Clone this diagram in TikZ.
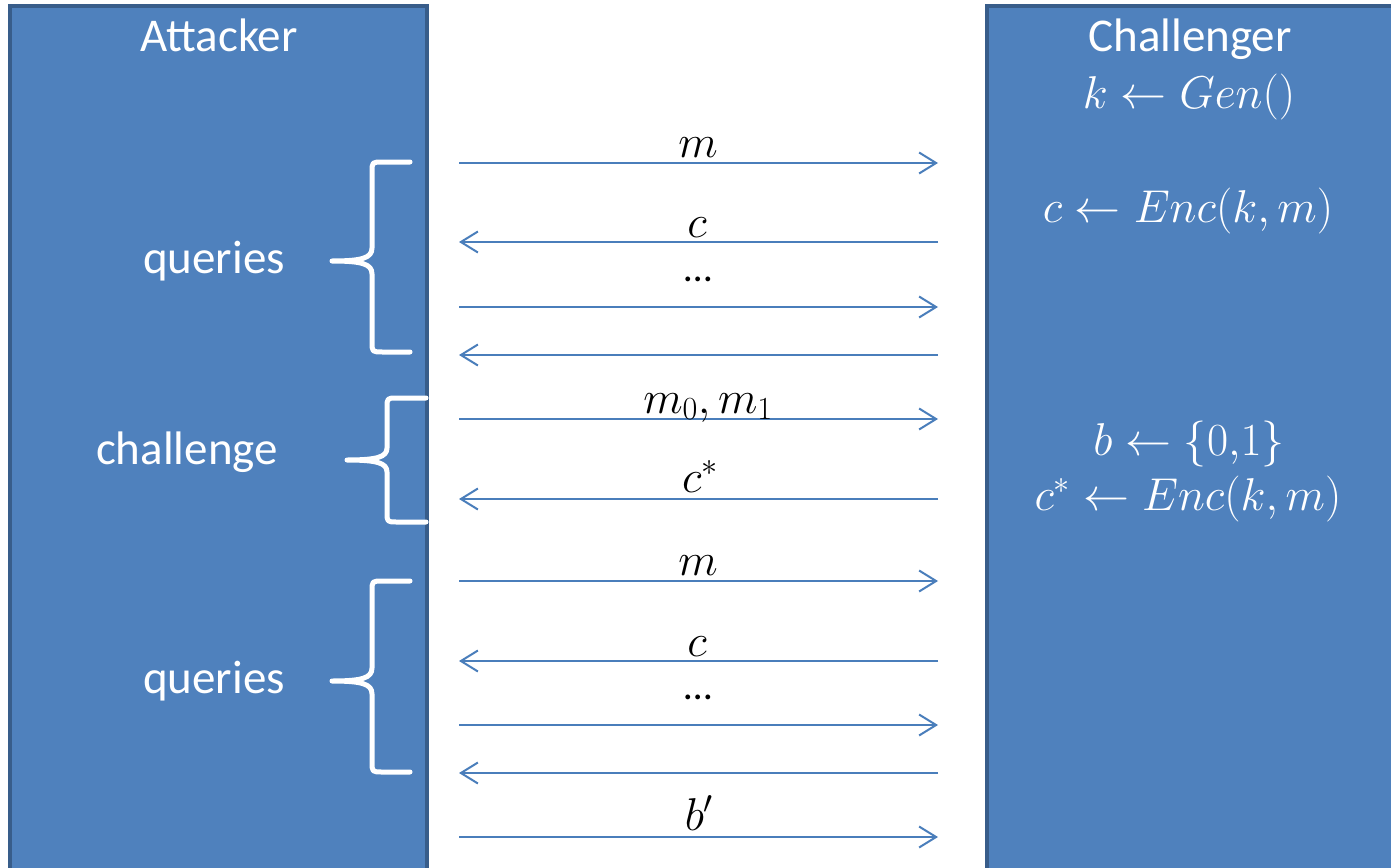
\RequirePackage{fix-cm}
\documentclass[tikz,border=0pt]{standalone}
\usepackage[no-math]{fontspec}
\newfontfamily\calibri{Carlito}
\usetikzlibrary{arrows.meta}
\definecolor{boxfill}{HTML}{4F81BD}
\definecolor{boxline}{HTML}{385D8A}
\definecolor{arrowcol}{HTML}{4A7EBB}
\tikzset{
  party/.style={fill=boxfill, draw=boxline, line width=3.5pt},
  txt/.style={text=white, font=\calibri\fontsize{47}{56}\selectfont, anchor=base, inner sep=0pt},
  mtxt/.style={text=white, font=\fontsize{46}{55}\selectfont, anchor=base, inner sep=0pt},
  lbl/.style={text=black, font=\fontsize{46}{55}\selectfont, anchor=base, inner sep=0pt},
  dots/.style={text=black, font=\calibri\fontsize{40}{48}\selectfont, anchor=base, inner sep=0pt},
  msg/.style={draw=arrowcol, line width=2pt, -{Straight Barb[length=17pt,width=21pt]}},
  brace/.style={draw=white, line width=5pt, line cap=round, line join=round}
}
\begin{document}
\begin{tikzpicture}[x=1pt,y=-1pt]
\useasboundingbox (0,0) rectangle (1391,867);
\clip (0,0) rectangle (1391,867);
\fill[white] (0,0) rectangle (1391,867);
% parties
\draw[party] (10,6) rectangle (427,920);
\draw[party] (987,6) rectangle (1440,920);
\node[txt] (att) at (219,52) {Attacker};
\node[txt] (chal) at (1190,52) {Challenger};
\node[mtxt] (gen) at (1189,108) {$k\leftarrow Gen()$};
\node[mtxt] (enc1) at (1188,222) {$c\leftarrow Enc(k,m)$};
\node[mtxt] (bsel) at (1189,455) {$b\leftarrow \{0{,}1\}$};
\node[mtxt] (enc2) at (1188,510) {$c^{*}\leftarrow Enc(k,m)$};
\node[txt] (q1) at (214,273) {queries};
\node[txt] (ch) at (187,464) {challenge};
\node[txt] (q2) at (214,693) {queries};
% braces
\draw[brace] (410,162) -- (383,162) .. controls (372,162) .. (372,172) -- (372,248)
  .. controls (372,258) and (362,261) .. (332,261)
  .. controls (362,261) and (372,264) .. (372,274) -- (372,342)
  .. controls (372,352) .. (383,352) -- (410,352);
\draw[brace] (426,398) -- (397,398) .. controls (387,398) .. (387,408) -- (387,448)
  .. controls (387,457) and (377,460) .. (347,460)
  .. controls (377,460) and (387,463) .. (387,472) -- (387,512)
  .. controls (387,522) .. (397,522) -- (426,522);
\draw[brace] (410,581) -- (383,581) .. controls (372,581) .. (372,591) -- (372,668)
  .. controls (372,678) and (362,681) .. (332,681)
  .. controls (362,681) and (372,684) .. (372,694) -- (372,762)
  .. controls (372,772) .. (383,772) -- (410,772);
% message endpoints
\foreach \n/\y in {1/163,2/242,3/307,4/355,5/419,6/499,7/581,8/661,9/725,10/773,11/837}{
  \coordinate (L\n) at (459,\y);
  \coordinate (R\n) at (938,\y);
}
\draw[msg] (L1) -- (R1);
\draw[msg] (R2) -- (L2);
\draw[msg] (L3) -- (R3);
\draw[msg] (R4) -- (L4);
\draw[msg] (L5) -- (R5);
\draw[msg] (R6) -- (L6);
\draw[msg] (L7) -- (R7);
\draw[msg] (R8) -- (L8);
\draw[msg] (L9) -- (R9);
\draw[msg] (R10) -- (L10);
\draw[msg] (L11) -- (R11);
% labels
\node[lbl] (lm1) at (698,157) {$m$};
\node[lbl] (lc1) at (697,237) {$c$};
\node[dots] (ld1) at (698,281) {…};
\node[lbl] (lm01) at (708,413) {$m_0,m_1$};
\node[lbl] (lcs) at (700,492) {$c^{*}$};
\node[lbl] (lm2) at (698,575) {$m$};
\node[lbl] (lc2) at (697,656) {$c$};
\node[dots] (ld2) at (698,699) {…};
\node[lbl] (lb) at (699,830) {$b'$};
\end{tikzpicture}
\end{document}
